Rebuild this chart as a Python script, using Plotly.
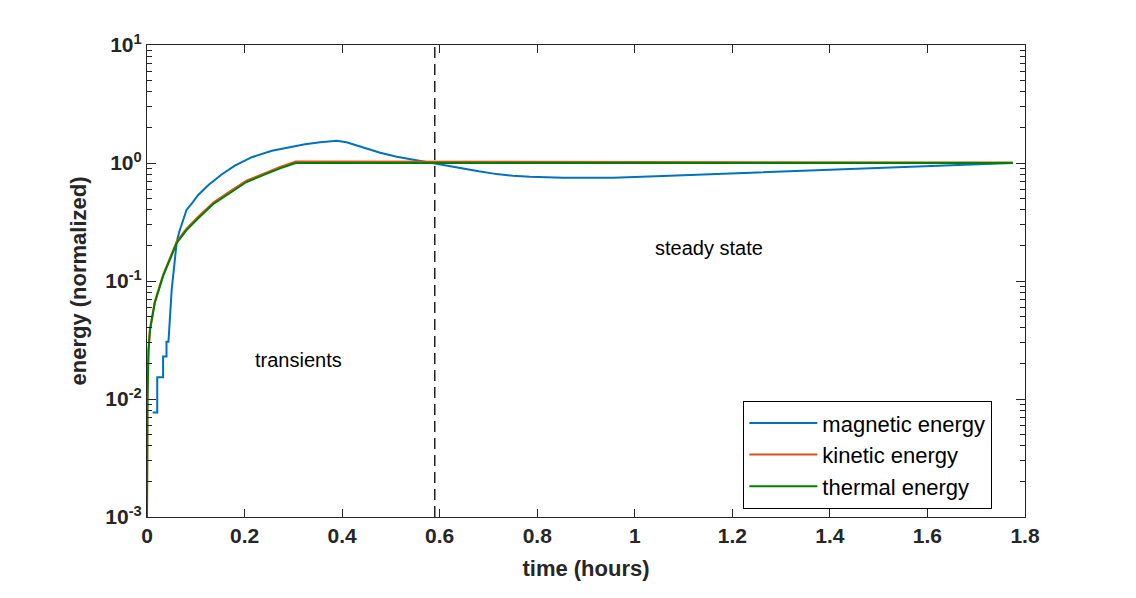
import plotly.graph_objects as go

# ---- data ----
t_mag = [0.0116, 0.021, 0.021, 0.033, 0.033, 0.040, 0.040, 0.044, 0.0506, 0.0574,
         0.061, 0.066, 0.071, 0.081, 0.092, 0.105, 0.126, 0.153, 0.180, 0.215,
         0.256, 0.297, 0.324, 0.355, 0.389, 0.409, 0.425, 0.443, 0.478, 0.512,
         0.546, 0.590, 0.620, 0.648, 0.680, 0.717, 0.750, 0.785, 0.853, 0.956,
         1.058, 1.175, 1.380, 1.585, 1.775]
e_mag = [0.0077, 0.0077, 0.0153, 0.0153, 0.0229, 0.0229, 0.0306, 0.0306, 0.084, 0.165,
         0.215, 0.26, 0.30, 0.40, 0.455, 0.536, 0.65, 0.80, 0.95, 1.12,
         1.27, 1.38, 1.44, 1.50, 1.54, 1.50, 1.43, 1.35, 1.22, 1.13,
         1.07, 1.00, 0.95, 0.90, 0.85, 0.805, 0.78, 0.765, 0.75, 0.75,
         0.776, 0.81, 0.87, 0.943, 1.00]

t_kin = [0.0, 0.0005, 0.001, 0.003, 0.006, 0.016, 0.033, 0.061, 0.081, 0.105,
         0.136, 0.174, 0.204, 0.242, 0.273, 0.305, 0.60, 1.0, 1.775]
e_kin = [0.001, 0.006, 0.0105, 0.026, 0.039, 0.067, 0.113, 0.216, 0.278, 0.35,
         0.463, 0.59, 0.71, 0.82, 0.925, 1.03, 1.025, 1.02, 1.01]

t_th = [0.0, 0.0005, 0.001, 0.003, 0.006, 0.016, 0.033, 0.061, 0.081, 0.105,
        0.136, 0.174, 0.204, 0.242, 0.273, 0.305, 0.60, 1.0, 1.775]
e_th = [0.001, 0.0058, 0.010, 0.025, 0.038, 0.065, 0.110, 0.210, 0.270, 0.34,
        0.45, 0.571, 0.69, 0.80, 0.90, 1.00, 1.00, 1.00, 1.00]

t_split = 0.59
x_ticks = [0, 0.2, 0.4, 0.6, 0.8, 1, 1.2, 1.4, 1.6, 1.8]
x_tick_text = ["0", "0.2", "0.4", "0.6", "0.8", "1", "1.2", "1.4", "1.6", "1.8"]
y_ticks = [1e-3, 1e-2, 1e-1, 1e0, 1e1]
y_tick_text = ["10<sup>-3</sup>", "10<sup>-2</sup>", "10<sup>-1</sup>", "10<sup>0</sup>", "10<sup>1</sup>"]
y_minor = [m * d for d in (1e-3, 1e-2, 1e-1, 1e0) for m in range(2, 10)]

FONT = "Liberation Sans, Arial, Helvetica, sans-serif"
TXT = "#262626"

fig = go.Figure()
fig.add_trace(go.Scatter(x=t_mag, y=e_mag, mode="lines", name="magnetic energy",
                         line=dict(color="#0072BD", width=2)))
fig.add_trace(go.Scatter(x=t_kin, y=e_kin, mode="lines", name="kinetic energy",
                         line=dict(color="#D95319", width=2)))
fig.add_trace(go.Scatter(x=t_th, y=e_th, mode="lines", name="thermal energy",
                         line=dict(color="#008000", width=2)))

fig.add_shape(type="line", xref="x", yref="paper", x0=t_split, x1=t_split, y0=0, y1=1,
              line=dict(color="black", width=1.3, dash="11px,6px"))

fig.add_annotation(x=0.31, y=-1.67, xref="x", yref="y", text="transients", showarrow=False,
                   font=dict(family=FONT, size=20, color="black"))
fig.add_annotation(x=1.152, y=-0.72, xref="x", yref="y", text="steady state", showarrow=False,
                   font=dict(family=FONT, size=20, color="black"))

fig.update_layout(
    width=1136, height=598,
    margin=dict(l=147, r=111, t=45, b=81),
    paper_bgcolor="white", plot_bgcolor="white",
    font=dict(family=FONT, color=TXT),
    showlegend=True,
    legend=dict(x=0.679, y=0.017, xanchor="left", yanchor="bottom",
                bgcolor="white", bordercolor="black", borderwidth=1.2,
                font=dict(family=FONT, size=22, color="black"),
                itemwidth=68, tracegroupgap=0),
)
fig.update_xaxes(
    range=[0, 1.8], tickvals=x_ticks, ticktext=x_tick_text,
    ticks="inside", ticklen=8, tickwidth=1, tickcolor=TXT,
    showline=True, linecolor=TXT, linewidth=1.2, mirror="allticks",
    showgrid=False, zeroline=False,
    tickfont=dict(family=FONT, size=21, color=TXT, weight="bold"),
    title=dict(text="<b>time (hours)</b>", font=dict(family=FONT, size=22, color=TXT), standoff=14),
)
fig.update_yaxes(
    type="log", range=[-3, 1], tickvals=y_ticks, ticktext=y_tick_text,
    ticks="inside", ticklen=9, tickwidth=1, tickcolor=TXT,
    minor=dict(tickmode="array", tickvals=y_minor, ticks="inside", ticklen=5,
               tickcolor=TXT, tickwidth=1, showgrid=False),
    showline=True, linecolor=TXT, linewidth=1.2, mirror="allticks",
    showgrid=False, zeroline=False,
    tickfont=dict(family=FONT, size=21, color=TXT, weight="bold"),
    title=dict(text="<b>energy (normalized)</b>", font=dict(family=FONT, size=22, color=TXT), standoff=12),
)

fig.write_html("out.html")
